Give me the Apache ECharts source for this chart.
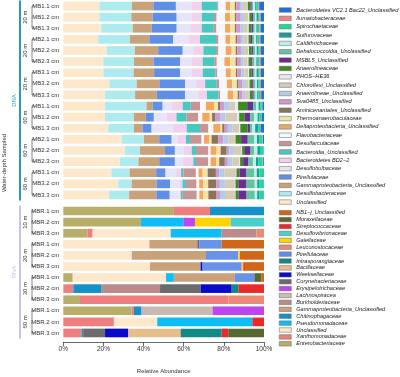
<!DOCTYPE html>
<html>
<head>
<meta charset="utf-8">
<script src="https://cdn.jsdelivr.net/npm/echarts@6/dist/echarts.min.js"></script>
<style>
  html, body { margin: 0; padding: 0; background: #fff; }
  #main { width: 400px; height: 377px; }
</style>
</head>
<body>
<div id="main"></div>
<script>
var font = 'Liberation Sans, Arial, sans-serif';

// DNA taxa, in stacking order (left to right)
var dnaNames = ['Unclassified', 'Desulfobacteraceae', 'Gammaproteobacteria_Unclassified', 'Pirellulaceae',
  'Desulfobulbaceae', 'Bacteroidetes BD2\u22122', 'Bacteroidia_Unclassified', 'Desulfarculaceae',
  'Flavobacteriaceae', 'Deltaproteobacteria_Unclassified', 'Thermoanaerobaculaceae',
  'Aminicenantales_Unclassified', 'Sva0485_Unclassified', 'Anaerolineae_Unclassified',
  'Chloroflexi_Unclassified', 'PHOS\u2212HE36', 'Anaerolineaceae', 'MSBL5_Unclassified',
  'Dehalococcoidia_Unclassified', 'Caldithrichaceae', 'Sulfurovaceae', 'Spirochaetaceae',
  'Ilumatobacteraceae', 'Bacteroidetes VC2.1 Bac22_Unclassified'];
var dnaColors = ['#FDE8CC', '#AEEBEE', '#C9A27A', '#5F8FE6', '#E6E4F8', '#F0D2EC', '#47C8C0', '#C89595',
  '#F6F6FC', '#F2A65E', '#F3E3A2', '#8C7458', '#CF98D0', '#B4CCEA', '#D6CBB6', '#ECE6F4',
  '#3C8C22', '#6B2D8F', '#62C39E', '#B6F0F0', '#1C9C9C', '#14E08E', '#E98585', '#2170D6'];

// RNA taxa, in stacking order (left to right)
var rnaNames = ['Enterobacteriaceae', 'Xanthomonadaceae', 'Unclassified', 'Pseudomonadaceae',
  'Chitinophagaceae', 'Gammaproteobacteria_Unclassified', 'Burkholderiaceae', 'Lachnospiracea',
  'Erysipelotrichaceae', 'Corynebacteriaceae', 'Weeksellaceae', 'Bacillaceae', 'Intrasporangiaceae',
  'Pirellulaceae', 'Leuconostocaceae', 'Gaiellaceae', 'Desulfovibrionaceae', 'Streptococcaceae',
  'Moraxellaceae', 'NB1\u2212j_Unclassified'];
var rnaColors = ['#B8AE6A', '#EF7F7F', '#FDE8CC', '#0CBEF4', '#1591C9', '#C9A27A', '#B98B8B', '#C8BAAE',
  '#BF44F2', '#6B6B6B', '#0A0ACC', '#E6BE8A', '#0F8A86', '#6893E8', '#EB8B77', '#FFD400',
  '#4ACFC9', '#EA2A2A', '#556A2E', '#CF6619'];

var dnaSamples = ['MB1.1 cm', 'MB1.2 cm', 'MB1.3 cm', 'MB2.1 cm', 'MB2.2 cm', 'MB2.3 cm', 'MB3.1 cm', 'MB3.2 cm', 'MB3.3 cm',
  'MB1.1 cm', 'MB1.2 cm', 'MB1.3 cm', 'MB2.1 cm', 'MB2.2 cm', 'MB2.3 cm', 'MB3.1 cm', 'MB3.2 cm', 'MB3.3 cm'];
var dnaDepths = ['20 m', '20 m', '20 m', '60 m', '60 m', '60 m'];
var rnaSamples = ['MBR.1 cm', 'MBR.2 cm', 'MBR.3 cm', 'MBR.1 cm', 'MBR.2 cm', 'MBR.3 cm',
  'MBR.1 cm', 'MBR.2 cm', 'MBR.3 cm', 'MBR.1 cm', 'MBR.2 cm', 'MBR.3 cm'];
var rnaDepths = ['10 m', '20 m', '30 m', '60 m'];
var xTicks = [0, 20, 40, 60, 80, 100];

// DNA rows (%), one per sample, same order as dnaNames
var mb11_20 = [18, 16.2, 10.7, 11.2, 7.9, 5, 7.7, 0.6, 3.6, 2.3, 2.3, 0.7, 1.8, 1.3, 2.2, 0.4, 1.3, 0.7, 0.7, 1, 0.7, 0.8, 0.5, 2.4];
var mb12_20 = [18, 15.9, 10.6, 12, 7.5, 5, 6.1, 1.3, 4.2, 2.6, 2.3, 0.7, 2.2, 1.6, 2.2, 0.5, 1.3, 0.7, 0.8, 0.8, 0.7, 0.7, 0.7, 1.6];
var mb13_20 = [18.9, 15.7, 9.4, 12.5, 7, 5.5, 6, 1.3, 4.3, 2.5, 2.4, 0.6, 2, 1.5, 2.3, 0.5, 1.4, 0.7, 0.9, 0.8, 0.7, 0.8, 0.6, 1.7];
var mb21_20 = [17.4, 15.8, 9.7, 11.9, 7.5, 5.8, 8, 1.2, 3.5, 2.3, 2.8, 0.7, 1.9, 1.4, 2, 0.4, 1.2, 0.8, 0.9, 0.9, 0.7, 0.8, 0.6, 1.8];
var mb22_20 = [21.6, 14.1, 11.6, 12.2, 5.3, 5, 6.3, 1.2, 3.6, 3, 2, 0.8, 1.8, 1.5, 2.1, 0.4, 1.3, 0.7, 1, 0.9, 0.7, 0.8, 0.6, 1.5];
var mb23_20 = [19.9, 15.3, 9.7, 13.2, 5.9, 5.4, 5.7, 1.3, 3.8, 2.8, 2.8, 0.7, 1.9, 1.4, 2, 0.4, 1.3, 0.7, 1, 0.9, 0.7, 0.8, 0.6, 1.7];
var mb31_20 = [19.9, 15.1, 10.2, 12.9, 5.9, 5.4, 6.3, 1, 4.2, 2.5, 2.5, 0.8, 1.9, 1.5, 2, 0.4, 1.2, 0.7, 0.9, 0.9, 0.7, 0.8, 0.6, 1.6];
var mb32_20 = [22.9, 13.6, 11.3, 12.8, 5.5, 4.5, 5.8, 1.3, 3.7, 2.7, 2.3, 0.8, 1.8, 1.4, 1.9, 0.4, 1.3, 0.7, 0.9, 0.8, 0.7, 0.7, 0.6, 1.5];
var mb33_20 = [20.8, 14.9, 10.8, 14.1, 6.2, 4.6, 5.8, 0.8, 3.7, 2.7, 2.3, 0.7, 1.7, 1.3, 1.9, 0.4, 1.3, 0.7, 0.9, 0.8, 0.7, 0.7, 0.6, 1.4];
var mb11_60 = [20.8, 20.7, 3, 5, 4.5, 5.5, 4, 4.6, 3, 4, 2, 1, 2, 2.5, 3, 1.5, 4.5, 3, 1.5, 1.2, 0.8, 0.8, 0.3, 0.8];
var mb12_60 = [20.8, 14.4, 6, 4, 6.3, 5, 5, 5.8, 2.1, 3.7, 1.2, 1.7, 2.2, 2.8, 5.8, 1, 2.8, 2.7, 2, 1.7, 0.8, 1, 0.2, 1.2];
var mb13_60 = [22.4, 12.8, 4.3, 4.5, 10.5, 7, 6.6, 4.2, 2.5, 3.6, 0.8, 1.2, 1.6, 2.4, 3.3, 0.5, 3.6, 1.2, 1, 1.6, 1.6, 0.8, 0.3, 1.7];
var mb21_60 = [29.1, 11.1, 7.6, 6.2, 2.8, 4.3, 2, 5.8, 1.2, 2.7, 1.1, 3.3, 2.5, 2.5, 3.3, 0.3, 2.8, 3.3, 3.3, 1.3, 1.3, 1.4, 0.3, 0.5];
var mb22_60 = [30.7, 7.5, 12.5, 4.9, 4.2, 4.2, 2.1, 6.2, 1.1, 3, 2, 3, 1.3, 2.3, 3.8, 0.3, 1.4, 2.8, 1.7, 1.7, 1.3, 1.7, 0.2, 0.1];
var mb23_60 = [28.2, 9.2, 10.4, 7.8, 3.9, 5.3, 1.3, 6.1, 1.2, 2.7, 1.6, 2.8, 1.5, 2.3, 3.5, 0.3, 1.5, 2.7, 2.2, 1.5, 1.3, 2, 0.3, 0.4];
var mb31_60 = [24.1, 9.1, 13.3, 4.7, 5.3, 2.5, 1.1, 6.3, 1.3, 2.1, 2.5, 4.1, 1.7, 2.5, 5.8, 0.3, 1.5, 3.3, 4.2, 1.2, 1.3, 1.8, 0.2, 0.3];
var mb32_60 = [27.4, 6.7, 12.4, 6.7, 4.9, 1.3, 1.7, 5.3, 1.3, 2, 2.5, 4.1, 1.7, 2.5, 5, 0.3, 1.4, 4.1, 4.1, 1.2, 1.2, 1.8, 0.2, 0.2];
var mb33_60 = [22.9, 10, 13.6, 6.7, 4.9, 0.6, 1, 7, 1.3, 2, 2.5, 4.1, 1.7, 2.5, 5, 0.3, 1.4, 4.1, 4.1, 1.2, 1.2, 1.8, 0.2, 0.2];

// RNA rows (%), same order as rnaNames
var mbr1_10 = [55.1, 18, 0, 0, 26.9, 0, 0, 0, 0, 0, 0, 0, 0, 0, 0, 0, 0, 0, 0, 0];
var mbr2_10 = [38.7, 0, 0, 21.1, 0, 0, 0, 0, 5.8, 0, 0, 0, 0, 0, 0, 17.8, 16.6, 0, 0, 0];
var mbr3_10 = [12.1, 2.5, 38.9, 25.4, 0, 0, 17.4, 0, 0, 0, 0, 0, 0, 0, 3.7, 0, 0, 0, 0, 0];
var mbr1_20 = [0, 0, 42.9, 0, 0, 23.9, 0, 0, 0, 0.9, 0, 0, 0, 11.2, 0, 0, 0, 0, 0, 21.1];
var mbr2_20 = [0, 0, 34.1, 0, 0, 37, 0, 0, 0, 0, 0, 0, 0, 16.1, 0, 0.8, 0, 0, 0, 12];
var mbr3_20 = [0, 0, 43.2, 0, 0, 25.2, 0, 0, 0, 0, 1, 0, 0, 19.5, 0, 0.8, 0, 0.8, 0, 9.5];
var mbr1_30 = [4.7, 0, 46.5, 3.9, 0, 30.4, 0, 0, 0, 0, 0, 0, 0, 9.7, 0, 0, 0, 0, 3.6, 1.2];
var mbr2_30 = [0, 5, 0, 0, 14.1, 0, 29.1, 0, 0, 20.2, 15.5, 0, 3.3, 0, 0, 0, 0, 12.8, 0, 0];
var mbr3_30 = [8.3, 73.9, 0, 0, 0, 0, 0, 0, 0, 0, 0, 0, 0, 0, 17.8, 0, 0, 0, 0, 0];
var mbr1_60 = [34.1, 1.1, 0, 0, 3.8, 0, 0, 35.4, 25.6, 0, 0, 0, 0, 0, 0, 0, 0, 0, 0, 0];
var mbr2_60 = [0, 25.2, 21.6, 47.4, 0, 0, 0, 0, 0, 0, 0, 0, 0, 0, 0, 0, 0, 5.8, 0, 0];
var mbr3_60 = [0, 9.1, 0, 0, 0.8, 0, 0, 0, 0, 10.9, 11.6, 26.1, 20.4, 0, 0, 0, 0, 3.3, 17.8, 0];

var dnaRows = [mb11_20, mb12_20, mb13_20, mb21_20, mb22_20, mb23_20, mb31_20, mb32_20, mb33_20,
  mb11_60, mb12_60, mb13_60, mb21_60, mb22_60, mb23_60, mb31_60, mb32_60, mb33_60];
var rnaRows = [mbr1_10, mbr2_10, mbr3_10, mbr1_20, mbr2_20, mbr3_20,
  mbr1_30, mbr2_30, mbr3_30, mbr1_60, mbr2_60, mbr3_60];

// relative abundance: scale each sample to 100 %
function column(rows, k) {
  return rows.map(function (r) {
    var s = r.reduce(function (a, b) { return a + b; }, 0);
    return +(r[k] / s * 100).toFixed(3);
  });
}

var series = [];
dnaNames.forEach(function (n, k) {
  series.push({
    name: n, type: 'bar', stack: 'dna', xAxisIndex: 0, yAxisIndex: 0,
    barCategoryGap: '22%', itemStyle: { color: dnaColors[k] },
    data: column(dnaRows, k)
  });
});
rnaNames.forEach(function (n, k) {
  series.push({
    name: n, type: 'bar', stack: 'rna', xAxisIndex: 1, yAxisIndex: 1,
    barCategoryGap: '22%', itemStyle: { color: rnaColors[k] },
    data: column(rnaRows, k)
  });
});

var labelStyle = { fontSize: 6, color: '#333', fontFamily: font };
var legendBase = {
  orient: 'vertical', left: 274, itemWidth: 12, itemHeight: 4.5, icon: 'rect',
  selectedMode: false,
  itemStyle: { borderColor: '#666', borderWidth: 0.5 },
  textStyle: { fontSize: 5.6, lineHeight: 6, fontStyle: 'italic', color: '#222', fontFamily: font }
};

var chart = echarts.init(document.getElementById('main'));
var option = {
  animation: false,
  backgroundColor: '#fff',
  grid: [
    { left: 63.3, right: 136, top: 0.5, height: 200 },
    { left: 63.3, right: 136, top: 205.5, height: 133 }
  ],
  xAxis: [
    { gridIndex: 0, type: 'value', min: 0, max: 100, show: false },
    {
      gridIndex: 1, type: 'value', min: 0, max: 100, interval: 20, offset: 3.5,
      name: 'Relative Abundance', nameLocation: 'middle', nameGap: 26,
      nameTextStyle: { fontSize: 6, color: '#333', fontFamily: font },
      axisLine: { show: true, lineStyle: { color: '#444', width: 0.8 } },
      axisTick: { show: true, length: 4, lineStyle: { color: '#444', width: 0.8 } },
      splitLine: { show: false },
      axisLabel: {
        fontSize: 6.5, color: '#333', fontFamily: font, margin: 4,
        formatter: function (v) { return xTicks.indexOf(v) >= 0 ? v + '%' : ''; }
      }
    }
  ],
  yAxis: [
    {
      gridIndex: 0, type: 'category', inverse: true, data: dnaSamples,
      axisLine: { show: false }, axisTick: { show: false },
      axisLabel: Object.assign({ margin: 4, interval: 0 }, labelStyle)
    },
    {
      gridIndex: 1, type: 'category', inverse: true, data: rnaSamples,
      axisLine: { show: false }, axisTick: { show: false },
      axisLabel: Object.assign({ margin: 4, interval: 0 }, labelStyle)
    }
  ],
  legend: [
    Object.assign({}, legendBase, { top: 2, itemGap: 2.35, data: dnaNames.slice().reverse() }),
    Object.assign({}, legendBase, { top: 204.7, itemGap: 0.9, data: rnaNames.slice().reverse() })
  ],
  series: series
};
chart.setOption(option);

// depth brackets, DNA/RNA side bars and y-axis title
var g = [];
function addBlock(axisIndex, depths, barColor, text) {
  var y0 = chart.convertToPixel({ yAxisIndex: axisIndex }, 0);
  var y1 = chart.convertToPixel({ yAxisIndex: axisIndex }, 1);
  var band = y1 - y0;
  var n = depths.length * 3;
  var top = y0 - band / 2, bottom = chart.convertToPixel({ yAxisIndex: axisIndex }, n - 1) + band / 2;
  depths.forEach(function (d, i) {
    var a = chart.convertToPixel({ yAxisIndex: axisIndex }, i * 3);
    var b = chart.convertToPixel({ yAxisIndex: axisIndex }, i * 3 + 2);
    var m = (a + b) / 2;
    g.push({ type: 'polyline', silent: true,
      shape: { points: [[34.5, a], [32, a], [32, b], [34.5, b]] },
      style: { stroke: '#555', lineWidth: 0.7, fill: null } });
    g.push({ type: 'text', x: 25, y: m, rotation: Math.PI / 2, silent: true,
      style: { text: d, fontSize: 6, fill: '#333', fontFamily: font, align: 'center', verticalAlign: 'middle' } });
  });
  g.push({ type: 'rect', silent: true, shape: { x: 19, y: top, width: 2, height: bottom - top },
    style: { fill: barColor } });
  g.push({ type: 'text', x: 14.5, y: (top + bottom) / 2, rotation: Math.PI / 2, silent: true,
    style: { text: text, fontSize: 6, fill: barColor, fontFamily: font, align: 'center', verticalAlign: 'middle' } });
}
addBlock(0, dnaDepths, '#2A9DB5', 'DNA');
addBlock(1, rnaDepths, '#C4C4E6', 'RNA');
g.push({ type: 'text', x: 4.5, y: 163, rotation: Math.PI / 2, silent: true,
  style: { text: 'Water-depth Sampled', fontSize: 6, fill: '#333', fontFamily: font, align: 'center', verticalAlign: 'middle' } });
chart.setOption({ graphic: g });
</script>
</body>
</html>
